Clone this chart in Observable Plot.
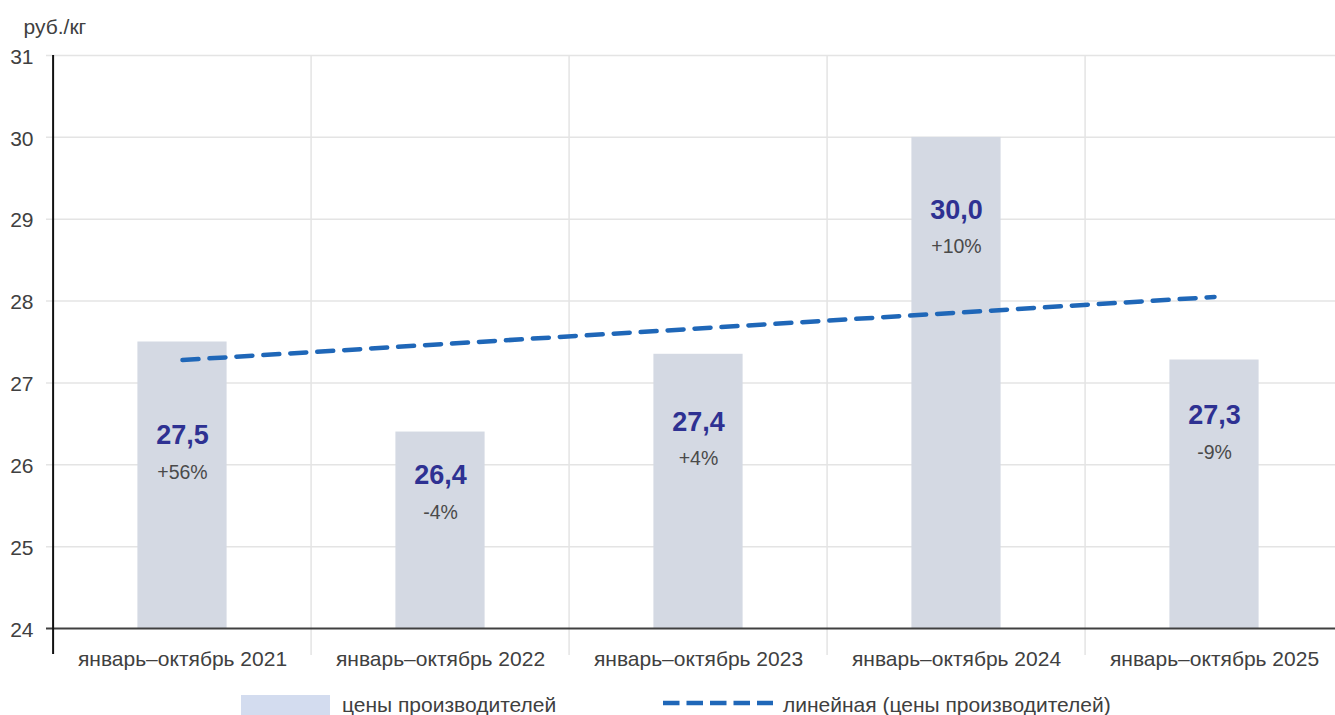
<!DOCTYPE html>
<html>
<head>
<meta charset="utf-8">
<script src="https://cdn.jsdelivr.net/npm/d3@7"></script>
<script src="https://cdn.jsdelivr.net/npm/@observablehq/plot@0.6"></script>
<style>
  html, body { margin: 0; padding: 0; background: #fff; overflow: hidden; }
  #wrap { position: relative; width: 1335px; height: 715px; font-family: "Liberation Sans", Arial, sans-serif; }
  .lg { position: absolute; font-size: 21px; color: #404040; line-height: 21px; white-space: nowrap; }
</style>
</head>
<body>
<div id="wrap"></div>
<script>
const categories = ["январь–октябрь 2021", "январь–октябрь 2022", "январь–октябрь 2023", "январь–октябрь 2024", "январь–октябрь 2025"];
const prices = [27.5, 26.4, 27.35, 30.0, 27.28];
const valueLabels = ["27,5", "26,4", "27,4", "30,0", "27,3"];
const changeLabels = ["+56%", "-4%", "+4%", "+10%", "-9%"];
const labelAt = [26.36, 25.87, 26.52, 29.11, 26.60];
const trendCats = [categories[0], categories[4]];
const trendVals = [27.28, 28.05];
const yTicks = [24, 25, 26, 27, 28, 29, 30, 31];
const unitLabel = "руб./кг";
const legendLabels = ["цены производителей", "линейная (цены производителей)"];

const data = categories.map((c, i) => ({cat: c, price: prices[i], value: valueLabels[i], change: changeLabels[i], at: labelAt[i]}));
const trend = trendCats.map((c, i) => ({cat: c, val: trendVals[i]}));

const W = 1335, H = 688, ML = 51, MR = -10, MT = 55, MB = 60;
const step = (W - ML - MR) / categories.length;
const barW = 90;
const inset = (step - barW) / 2;
const grid = "#e4e4e4";

const chart = Plot.plot({
  width: W, height: H,
  marginLeft: ML, marginRight: MR, marginTop: MT, marginBottom: MB,
  style: {fontFamily: "'Liberation Sans', Arial, sans-serif", background: "#fff", overflow: "visible"},
  x: {type: "band", domain: categories, padding: 0, axis: null},
  y: {domain: [24, 31], axis: null},
  marks: [
    Plot.ruleY(yTicks.filter(t => t > 24), {y: d => d, stroke: grid, strokeWidth: 1.5, insetLeft: -5}),
    Plot.ruleX(categories.slice(1), {x: d => d, y1: 31, y2: 24, dx: -step / 2, insetBottom: -27, stroke: grid, strokeWidth: 1.5}),
    Plot.barY(data, {x: "cat", y1: 24, y2: "price", fill: "#d4d9e3", insetLeft: inset, insetRight: inset}),
    Plot.ruleY([24], {y: d => d, stroke: "#404040", strokeWidth: 2, insetLeft: -5}),
    Plot.ruleX([categories[0]], {x: d => d, y1: 31, y2: 24, dx: -step / 2, insetBottom: -26, stroke: "#111", strokeWidth: 2}),
    Plot.line(trend, {x: "cat", y: "val", stroke: "#1f67b8", strokeWidth: 4.5, strokeDasharray: "16 11"}),
    Plot.text(data, {x: "cat", y: "at", text: "value", fontSize: 27, fontWeight: "bold", fill: "#2e3192"}),
    Plot.text(data, {x: "cat", y: "at", text: "change", dy: 37, fontSize: 19.5, fill: "#4a4a4a"}),
    Plot.text(yTicks, {y: d => d, text: d => String(d), frameAnchor: "left", dx: -18, dy: 1.5, textAnchor: "end", fontSize: 21, fill: "#404040"}),
    Plot.text(categories, {x: d => d, y: () => 24, text: d => d, dy: 31, fontSize: 21, fill: "#404040"}),
    Plot.text([unitLabel], {text: d => d, frameAnchor: "top-left", dx: -28, dy: -28, textAnchor: "start", lineAnchor: "middle", fontSize: 21, fill: "#404040"})
  ]
});

const wrap = document.getElementById("wrap");
wrap.appendChild(chart);

// Legend (HTML, below the SVG)
const sw = document.createElement("div");
sw.style.cssText = "position:absolute;left:241px;top:695px;width:89px;height:22px;background:#d3dcef;";
wrap.appendChild(sw);
const t1 = document.createElement("div");
t1.className = "lg"; t1.style.left = "342px"; t1.style.top = "694px"; t1.textContent = legendLabels[0];
wrap.appendChild(t1);
const ns = "http://www.w3.org/2000/svg";
const ds = document.createElementNS(ns, "svg");
ds.setAttribute("width", "112"); ds.setAttribute("height", "12");
ds.style.cssText = "position:absolute;left:663px;top:697px;";
const ln = document.createElementNS(ns, "line");
ln.setAttribute("x1", "0"); ln.setAttribute("x2", "110"); ln.setAttribute("y1", "6"); ln.setAttribute("y2", "6");
ln.setAttribute("stroke", "#1f67b8"); ln.setAttribute("stroke-width", "4.5"); ln.setAttribute("stroke-dasharray", "16.5 7");
ds.appendChild(ln);
wrap.appendChild(ds);
const t2 = document.createElement("div");
t2.className = "lg"; t2.style.left = "783px"; t2.style.top = "694px"; t2.textContent = legendLabels[1];
wrap.appendChild(t2);
</script>
</body>
</html>
